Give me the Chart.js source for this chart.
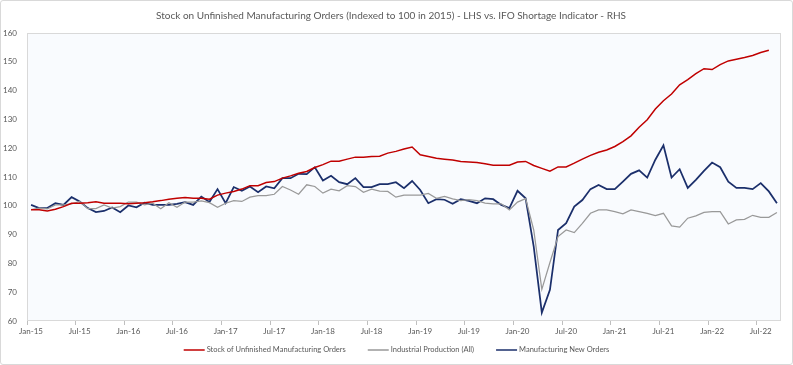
<!DOCTYPE html>
<html>
<head>
<meta charset="utf-8">
<script src="https://cdn.jsdelivr.net/npm/chart.js@4"></script>
<style>
  html, body { margin: 0; padding: 0; background: #fff; }
  #wrap {
    width: 791px; height: 363px;
    border: 1px solid #d9d9d9; border-radius: 3px;
    background: #fff;
  }
  canvas { display: block; }
</style>
</head>
<body>
<div id="wrap"><canvas id="chart" width="791" height="363"></canvas></div>
<script>
// monthly, Jan-15 .. Sep-22
const monthNames = ["Jan", "Feb", "Mar", "Apr", "May", "Jun", "Jul", "Aug", "Sep", "Oct", "Nov", "Dec"]
const months = []
for (let y = 15; y <= 22; y++) {
  for (let m = 0; m < 12; m++) {
    if (y === 22 && m > 8) break
    months.push(monthNames[m] + "-" + y)
  }
}

const stockUnfinished = [
  98.6, 98.6, 98.2, 98.8, 99.7, 100.9, 100.9, 101.1, 101.4, 100.9,
  100.9, 100.9, 100.7, 100.9, 101.1, 101.4, 101.8, 102.3, 102.6, 102.9,
  102.6, 102.6, 102.3, 103.7, 104.4, 105.0, 105.8, 107.0, 107.0, 108.1,
  108.4, 109.6, 110.4, 111.3, 111.9, 113.3, 114.3, 115.5, 115.5, 116.2,
  116.9, 116.9, 117.1, 117.2, 118.3, 118.9, 119.7, 120.4, 117.7, 117.1,
  116.5, 116.2, 115.9, 115.4, 115.2, 115.0, 114.6, 114.1, 114.1, 114.1,
  115.2, 115.4, 114.0, 113.0, 112.0, 113.5, 113.5, 114.8, 116.2, 117.5,
  118.6, 119.4, 120.6, 122.3, 124.3, 127.3, 129.9, 133.6, 136.5, 138.8,
  142.0, 143.8, 145.9, 147.6, 147.3, 149.0, 150.3, 150.9, 151.5, 152.2,
  153.2, 154.0, null
]

const industrialProduction = [
  98.7, 99.2, 98.9, 100.3, 100.3, 100.7, 101.5, 99.0, 99.0, 100.3,
  99.2, 99.7, 101.3, 101.3, 100.3, 100.9, 99.0, 101.1, 99.5, 101.3,
  101.3, 101.7, 101.1, 99.5, 100.9, 101.8, 101.5, 103.0, 103.5, 103.5,
  104.0, 106.7, 105.5, 104.0, 107.3, 106.7, 104.4, 105.8, 105.2, 107.0,
  106.7, 104.7, 105.8, 105.1, 105.0, 103.0, 103.7, 103.7, 103.7, 104.3,
  102.6, 103.3, 102.4, 101.8, 102.1, 101.8, 100.9, 100.7, 100.7, 98.6,
  101.3, 102.5, 91.6, 71.0, 80.3, 89.3, 91.6, 90.7, 93.9, 97.4,
  98.6, 98.6, 98.0, 97.2, 98.6, 98.0, 97.4, 96.6, 97.4, 93.0,
  92.6, 95.7, 96.5, 97.7, 98.0, 98.0, 93.7, 95.1, 95.3, 96.7,
  96.0, 96.0, 97.7
]

const newOrders = [
  100.3, 99.2, 99.2, 100.9, 100.3, 103.0, 101.5, 99.2, 97.8, 98.2,
  99.4, 97.8, 100.1, 99.5, 101.1, 100.3, 100.3, 100.3, 100.7, 101.3,
  100.3, 103.2, 101.3, 105.8, 100.9, 106.5, 105.2, 106.7, 104.7, 106.7,
  106.1, 109.6, 109.6, 111.1, 111.0, 113.4, 108.8, 110.4, 108.2, 107.5,
  109.6, 106.5, 106.5, 107.5, 107.5, 108.2, 106.1, 108.6, 105.5, 100.9,
  102.3, 102.1, 100.7, 102.3, 101.7, 100.9, 102.6, 102.3, 100.3, 99.2,
  105.2, 102.6, 85.8, 62.9, 70.8, 91.6, 94.0, 99.7, 102.0, 105.8,
  107.2, 105.8, 105.8, 108.4, 111.1, 112.3, 109.8, 116.0, 121.0, 109.8,
  112.7, 106.2, 109.0, 112.1, 115.0, 113.4, 108.4, 106.2, 106.2, 105.8,
  107.9, 105.0, 100.9
]

const yTicks = { min: 60, max: 160, step: 10 }

const textColor = "#595959"
const fontFamily = "Lato, 'Open Sans', sans-serif"

// light plot area fill + frame
const plotArea = {
  id: "plotArea",
  beforeDraw(chart) {
    const { ctx, chartArea: a } = chart
    ctx.save()
    ctx.fillStyle = "#f9fbfe"
    ctx.fillRect(a.left, a.top, a.right - a.left, a.bottom - a.top)
    ctx.strokeStyle = "#d9d9d9"
    ctx.lineWidth = 1
    ctx.strokeRect(a.left + 0.5, a.top + 0.5, a.right - a.left - 1, a.bottom - a.top - 1)
    ctx.restore()
  }
}

// excel-like legend: short line, tiny gap, text, centred under the chart
const lineLegend = {
  id: "lineLegend",
  afterDraw(chart) {
    const ctx = chart.ctx
    const sets = chart.data.datasets
    const lineW = 21, gap = 2, between = 22
    ctx.save()
    ctx.font = "7.5px " + fontFamily
    const widths = sets.map((d) => ctx.measureText(d.label).width)
    let total = widths.reduce((a, w) => a + lineW + gap + w, 0) + between * (sets.length - 1)
    let x = (chart.width - total) / 2
    const y = 349
    sets.forEach((d, i) => {
      ctx.strokeStyle = d.borderColor
      ctx.lineWidth = 1.5
      ctx.beginPath()
      ctx.moveTo(x, y)
      ctx.lineTo(x + lineW, y)
      ctx.stroke()
      ctx.fillStyle = textColor
      ctx.textBaseline = "middle"
      ctx.fillText(d.label, x + lineW + gap, y)
      x += lineW + gap + widths[i] + between
    })
    ctx.restore()
  }
}

const ctx = document.getElementById("chart").getContext("2d")
new Chart(ctx, {
  type: "line",
  data: {
    labels: months,
    datasets: [
      {
        label: "Stock of Unfinished Manufacturing Orders",
        data: stockUnfinished,
        borderColor: "#c00000",
        borderWidth: 1.5
      },
      {
        label: "Industrial Production (All)",
        data: industrialProduction,
        borderColor: "#999999",
        borderWidth: 1.25
      },
      {
        label: "Manufacturing New Orders",
        data: newOrders,
        borderColor: "#1b2f6b",
        borderWidth: 1.75
      }
    ]
  },
  options: {
    responsive: false,
    animation: false,
    layout: { padding: { left: 0, right: 11, top: 0, bottom: 25 } },
    elements: {
      point: { radius: 0 },
      line: { tension: 0 }
    },
    plugins: {
      title: {
        display: true,
        text: "Stock on Unfinished Manufacturing Orders (Indexed to 100 in 2015) - LHS vs. IFO Shortage Indicator - RHS",
        color: textColor,
        font: { family: fontFamily, size: 10, weight: "normal" },
        padding: { top: 9, bottom: 11 }
      },
      legend: { display: false },
      tooltip: { enabled: false }
    },
    scales: {
      x: {
        offset: true,
        grid: {
          offset: true,
          drawOnChartArea: false,
          tickLength: 4,
          color: (c) => (c.index % 6 === 0 ? "#bfbfbf" : "rgba(0,0,0,0)")
        },
        border: { display: false },
        ticks: {
          autoSkip: false,
          maxRotation: 0,
          padding: 2,
          color: textColor,
          font: { family: fontFamily, size: 8 },
          callback: (v, i) => (i % 6 === 0 ? months[i] : "")
        },
        afterFit: (s) => { s.height = 18 }
      },
      y: {
        min: yTicks.min,
        max: yTicks.max,
        grid: { display: false, drawTicks: false },
        border: { display: false },
        ticks: {
          stepSize: yTicks.step,
          padding: 10,
          color: textColor,
          font: { family: fontFamily, size: 8 }
        },
        afterFit: (s) => { s.width = 26 }
      }
    }
  },
  plugins: [plotArea, lineLegend]
})
</script>
</body>
</html>
